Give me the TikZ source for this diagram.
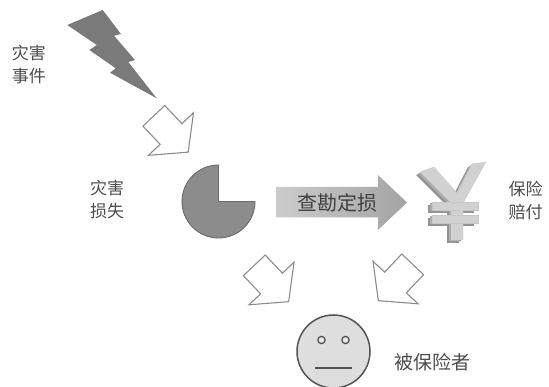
\documentclass[tikz,border=0pt]{standalone}
\usepackage{fontspec}
\newfontfamily\cjk{Noto Sans CJK SC}
\begin{document}
\begin{tikzpicture}[x=1pt,y=1pt,
  label/.style={font=\cjk\fontsize{17}{23}\selectfont, text=black!70, align=center, inner sep=0pt},
  outlinearrow/.style={draw=black!45, line width=1.1pt, fill=white, line join=miter},
  hollowarrow/.pic={\draw[outlinearrow] (-25,-15) -- (0,-15) -- (0,-31) -- (25,0)
                      -- (0,31) -- (0,15) -- (-25,15) -- cycle;},
  boltfill/.style={fill=black!52},
  piefill/.style={fill=black!45, draw=black!58, line width=0.9pt},
  yenfront/.style={fill=black!18, draw=black!22, line width=0.3pt},
  yenside/.style={fill=black!42},
  facefill/.style={fill=black!13, draw=black!68, line width=1.5pt}
]
\useasboundingbox (0,-387) rectangle (549,0);

% lightning bolt
\fill[boltfill] (67.3,-25) -- (102.7,-10) -- (121,-34) -- (114,-35.7) -- (135,-60)
  -- (128.3,-62) -- (156.7,-98.3) -- (110,-72.7) -- (115.7,-68.3) -- (89.3,-50)
  -- (96.7,-45) -- cycle;

% hollow block arrows
\coordinate (arrA) at (171,-134);
\coordinate (arrB) at (271.5,-283.5);
\coordinate (arrC) at (395.5,-282.5);
\path (arrA) pic[rotate=-46.6] {hollowarrow};
\path (arrB) pic[rotate=-46.6] {hollowarrow};
\path (arrC) pic[rotate=-133.4] {hollowarrow};

% loss pie
\coordinate (pie) at (218.5,-201.5);
\draw[piefill] (pie) -- ++(36.5,0) arc[start angle=0, end angle=-270, radius=36.5] -- cycle;

% big shaded arrow
\shade[left color=black!20, right color=black!36]
  (276,-187) -- (378,-187) -- (378,-175) -- (407,-202.5) -- (378,-230)
  -- (378,-217.5) -- (276,-217.5) -- cycle;
\node[label, font=\cjk\fontsize{20}{24}\selectfont, text=black!75] (survey) at (337,-202.5) {查勘定损};

% 3D yen sign: side faces first, then the front face
\begin{scope}[shift={(-4,-3)}]
  \fill[yenside] (420,-172) -- (434,-167) -- (457,-193) -- (472,-164) -- (486,-162)
    -- (463,-203) -- (463,-240) -- (451,-240) -- (451,-203) -- cycle;
  \fill[yenside] (432,-202) rectangle (478,-210);
  \fill[yenside] (432,-215) rectangle (478,-223);
\end{scope}
\begin{scope}[shift={(-2,-1.5)}]
  \fill[black!32] (420,-172) -- (434,-167) -- (457,-193) -- (472,-164) -- (486,-162)
    -- (463,-203) -- (463,-240) -- (451,-240) -- (451,-203) -- cycle;
  \fill[black!32] (432,-202) rectangle (478,-210);
  \fill[black!32] (432,-215) rectangle (478,-223);
\end{scope}
\draw[yenfront] (420,-172) -- (434,-167) -- (457,-193) -- (472,-164) -- (486,-162)
  -- (463,-203) -- (463,-240) -- (451,-240) -- (451,-203) -- cycle;
\draw[yenfront] (432,-202) rectangle (478,-210);
\draw[yenfront] (432,-215) rectangle (478,-223);
\coordinate (yen) at (455,-200);

% insured person face
\coordinate (face) at (333.5,-351.5);
\draw[facefill] (face) circle[radius=36.5];
\draw[draw=black!68, line width=1.3pt, fill=black!8] (321.5,-340) circle[radius=3.6];
\draw[draw=black!68, line width=1.3pt, fill=black!8] (345.5,-340) circle[radius=3.6];
\draw[draw=black!68, line width=1.6pt] (315,-368) -- (352,-368);

% labels
\node[label] (event) at (29,-64.5) {灾害\\事件};
\node[label] (loss) at (107,-200) {灾害\\损失};
\node[label] (payout) at (525.5,-200) {保险\\赔付};
\node[label, font=\cjk\fontsize{19}{23}\selectfont] (insured) at (432.5,-362.5) {被保险者};
\end{tikzpicture}
\end{document}
